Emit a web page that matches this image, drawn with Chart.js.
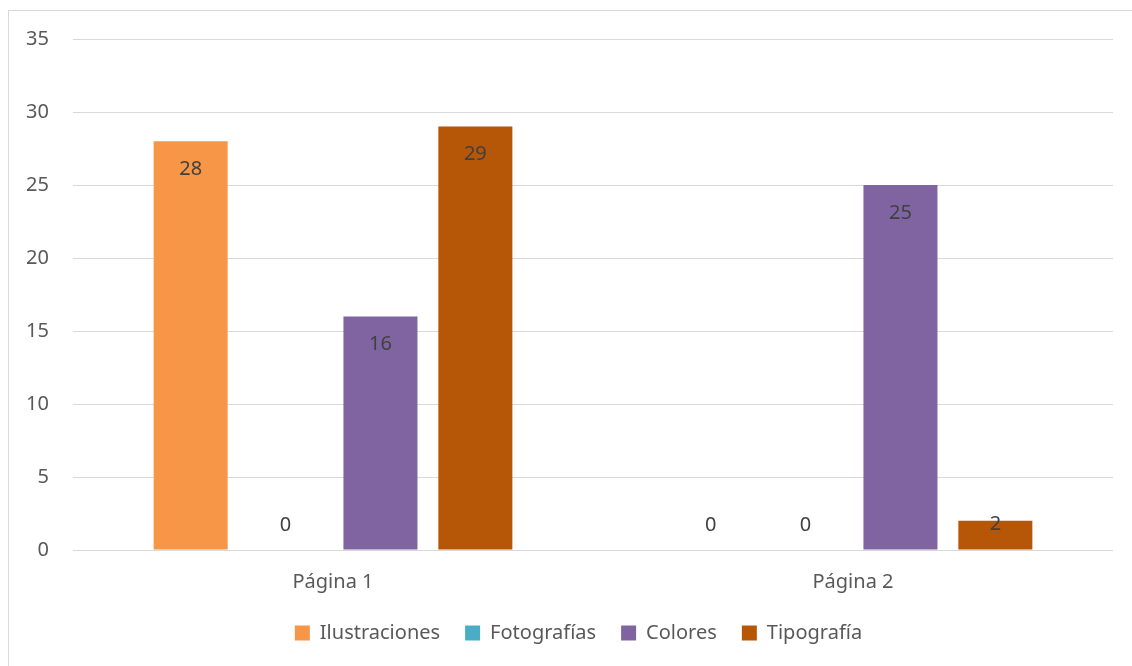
<!DOCTYPE html>
<html>
<head>
<meta charset="utf-8">
<script src="https://cdn.jsdelivr.net/npm/chart.js@4/dist/chart.umd.min.js"></script>
<style>
  html, body { margin: 0; padding: 0; background: #fff; }
  #wrap { width: 1132px; height: 666px; position: relative; }
</style>
</head>
<body>
<div id="wrap"><canvas id="chart"></canvas></div>
<script>
const categories = ['Página 1', 'Página 2'];
const seriesNames = ['Ilustraciones', 'Fotografías', 'Colores', 'Tipografía'];
const ilustraciones = [28, 0];
const fotografias = [0, 0];
const colores = [16, 25];
const tipografia = [29, 2];
const seriesColors = ['#F79646', '#4BACC6', '#8064A2', '#B65708'];
const yTicks = { min: 0, max: 35, step: 5 };

const FONT = "'Noto Sans', 'Liberation Sans', sans-serif";

// gray frame like the office chart box
const frame = {
  id: 'frame',
  beforeDraw(chart) {
    const ctx = chart.ctx;
    ctx.save();
    ctx.fillStyle = '#fff';
    ctx.fillRect(0, 0, chart.width, chart.height);
    ctx.strokeStyle = '#d9d9d9';
    ctx.lineWidth = 1;
    ctx.strokeRect(8.5, 10.5, chart.width + 20, chart.height + 20);
    ctx.restore();
  }
};

// legend sits a bit right of the canvas centre in the original
const legendShift = {
  id: 'legendShift',
  afterLayout(chart) {
    chart.legend.left += 22;
    chart.legend.right += 22;
  }
};

// value labels at the inside end of each bar
const valueLabels = {
  id: 'valueLabels',
  afterDatasetsDraw(chart) {
    const ctx = chart.ctx;
    ctx.save();
    ctx.font = '20px ' + FONT;
    ctx.fillStyle = '#404040';
    ctx.textAlign = 'center';
    ctx.textBaseline = 'middle';
    chart.data.datasets.forEach((ds, i) => {
      chart.getDatasetMeta(i).data.forEach((bar, j) => {
        const y = Math.min(bar.y + 28, bar.base - 25);
        ctx.fillText(String(ds.data[j]), bar.x, y);
      });
    });
    ctx.restore();
  }
};

const values = [ilustraciones, fotografias, colores, tipografia];

new Chart(document.getElementById('chart'), {
  type: 'bar',
  data: {
    labels: categories,
    datasets: seriesNames.map((name, i) => ({
      label: name,
      data: values[i],
      backgroundColor: seriesColors[i],
      borderWidth: 0,
      barPercentage: 0.78,
      categoryPercentage: 0.73
    }))
  },
  options: {
    responsive: true,
    maintainAspectRatio: false,
    animation: false,
    layout: { padding: { top: 39, right: 19, left: 0, bottom: 13 } },
    plugins: {
      tooltip: { enabled: false },
      legend: {
        position: 'bottom',
        labels: {
          boxWidth: 15,
          boxHeight: 15,
          padding: 25,
          color: '#595959',
          font: { family: FONT, size: 20 }
        }
      }
    },
    scales: {
      x: {
        afterFit(scale) { scale.height = 48; },
        grid: { display: false },
        border: { display: false },
        ticks: { color: '#595959', padding: 12, font: { family: FONT, size: 20 } }
      },
      y: {
        min: yTicks.min,
        max: yTicks.max,
        afterFit(scale) { scale.width = 73; },
        grid: { color: '#d9d9d9', lineWidth: 1, drawTicks: false },
        border: { display: false },
        ticks: {
          stepSize: yTicks.step,
          color: '#595959',
          padding: 24,
          font: { family: FONT, size: 20 }
        }
      }
    }
  },
  plugins: [frame, legendShift, valueLabels]
});
</script>
</body>
</html>
